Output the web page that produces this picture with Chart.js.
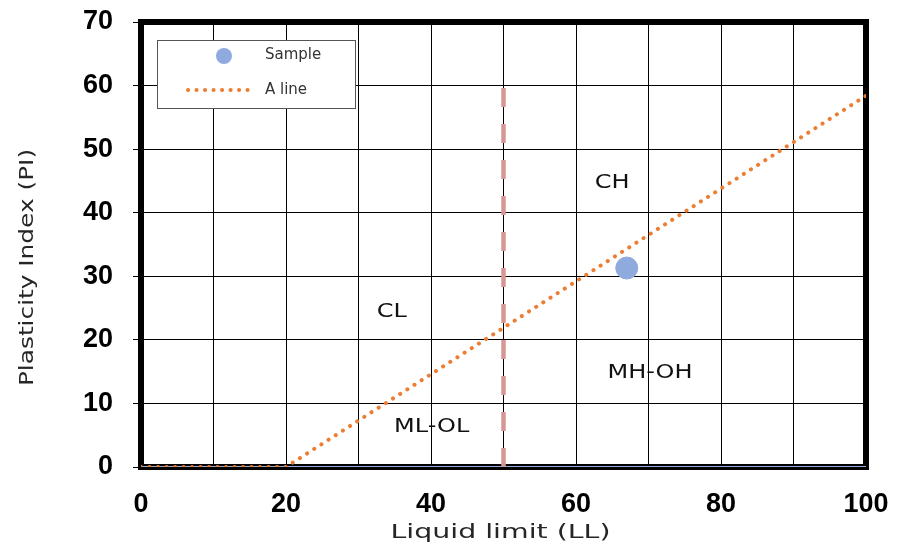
<!DOCTYPE html>
<html>
<head>
<meta charset="utf-8">
<script src="https://cdn.jsdelivr.net/npm/chart.js@4/dist/chart.umd.min.js"></script>
<style>
  html, body { margin: 0; padding: 0; background: #fff; }
  #wrap { width: 897px; height: 548px; }
</style>
</head>
<body>
<div id="wrap"><canvas id="chart"></canvas></div>
<script>
// values
const sampleLL = [67];
const samplePI = [31.3];
const aLineLL = [0, 20, 100];
const aLinePI = [0, 0, 58.4];
const dividerLL = [50, 50];
const dividerPI = [0, 60];
const baseLL = [0, 100];
const basePI = [0, 0];
const zoneNames = ["CH", "CL", "MH-OH", "ML-OL"];
const zoneLL = [65, 34.6, 70.2, 40.1];
const zonePI = [44.7, 24.4, 14.8, 6.3];
const xTitle = "Liquid limit (LL)";
const yTitle = "Plasticity Index (PI)";

const toPoints = (xs, ys) => xs.map((x, i) => ({ x, y: ys[i] }));

const BLUE = "#8faadc";
const ORANGE = "#ed7d31";
const PINK = "#d99694";
const textFont = '"DejaVu Sans", sans-serif';
const tickFont = { family: '"Liberation Sans", Arial', size: 27, weight: "bold" };

// the source text is a little wider than DejaVu, so stretch it sideways
const stretchedText = (ctx, text, x, y, sx, angle) => {
  ctx.save();
  ctx.translate(x, y);
  if (angle) ctx.rotate(angle);
  ctx.scale(sx, 1);
  ctx.fillText(text, 0, 0);
  ctx.restore();
};

const frame = {
  id: "frame",
  beforeDatasetsDraw(chart) {
    const { ctx, chartArea: a } = chart;
    ctx.save();
    ctx.strokeStyle = "#000";
    ctx.lineWidth = 6;
    ctx.strokeRect(a.left, a.top, a.right - a.left, a.bottom - a.top);
    ctx.restore();
  }
};

const texts = {
  id: "texts",
  afterDatasetsDraw(chart) {
    const { ctx, chartArea: a, scales: { x, y } } = chart;
    ctx.save();
    ctx.textAlign = "center";
    ctx.textBaseline = "middle";
    ctx.fillStyle = "#111";
    ctx.font = "20px " + textFont;
    zoneNames.forEach((name, i) => {
      stretchedText(ctx, name, x.getPixelForValue(zoneLL[i]), y.getPixelForValue(zonePI[i]), 1.2);
    });

    ctx.fillStyle = "#262626";
    ctx.font = "20px " + textFont;
    stretchedText(ctx, xTitle, (a.left + a.right) / 2 - 3, 533, 1.42);
    stretchedText(ctx, yTitle, 28, (a.top + a.bottom) / 2 + 23, 1.24, -Math.PI / 2);
    ctx.restore();
  }
};

const insideLegend = {
  id: "insideLegend",
  afterDraw(chart) {
    const { ctx, chartArea: a } = chart;
    const left = a.left + 16, top = a.top + 18;
    ctx.save();
    ctx.fillStyle = "#fff";
    ctx.fillRect(left, top, 198, 68);
    ctx.strokeStyle = "#555";
    ctx.lineWidth = 1;
    ctx.strokeRect(left + 0.5, top + 0.5, 198, 68);

    const sample = chart.data.datasets[0];
    ctx.fillStyle = sample.backgroundColor;
    ctx.beginPath();
    ctx.arc(left + 67, top + 16, 8, 0, Math.PI * 2);
    ctx.fill();

    const aLine = chart.data.datasets[1];
    ctx.strokeStyle = aLine.borderColor;
    ctx.lineWidth = 4;
    ctx.lineCap = "round";
    ctx.setLineDash([0.1, 8.4]);
    ctx.beginPath();
    ctx.moveTo(left + 31, top + 50);
    ctx.lineTo(left + 96, top + 50);
    ctx.stroke();
    ctx.setLineDash([]);

    ctx.fillStyle = "#333";
    ctx.font = "15px " + textFont;
    ctx.textBaseline = "middle";
    ctx.fillText(sample.label, left + 108, top + 15);
    ctx.fillText(aLine.label, left + 108, top + 50);
    ctx.restore();
  }
};

new Chart("chart", {
  type: "scatter",
  data: {
    datasets: [
      {
        label: "Sample",
        data: toPoints(sampleLL, samplePI),
        backgroundColor: BLUE,
        borderColor: BLUE,
        pointRadius: 11,
        order: 0
      },
      {
        label: "A line",
        data: toPoints(aLineLL, aLinePI),
        showLine: true,
        borderColor: ORANGE,
        borderWidth: 4,
        borderCapStyle: "round",
        borderDash: [0.1, 8.4],
        pointRadius: 0,
        order: 1
      },
      {
        data: toPoints(dividerLL, dividerPI),
        showLine: true,
        borderColor: PINK,
        borderWidth: 4.5,
        borderDash: [19, 17],
        pointRadius: 0,
        order: 2
      },
      {
        data: toPoints(baseLL, basePI),
        showLine: true,
        borderColor: BLUE,
        borderWidth: 2,
        pointRadius: 0,
        order: 3
      }
    ]
  },
  options: {
    responsive: true,
    maintainAspectRatio: false,
    animation: false,
    layout: { padding: { top: 22, right: 31, left: 0, bottom: 0 } },
    plugins: { legend: { display: false }, tooltip: { enabled: false } },
    scales: {
      x: {
        min: 0,
        max: 100,
        afterFit: s => { s.height = 81; s.paddingLeft = 0; s.paddingRight = 0; },
        ticks: {
          stepSize: 10,
          maxRotation: 0,
          autoSkip: false,
          padding: 21,
          color: "#000",
          font: tickFont,
          callback: v => (v % 20 === 0 ? v : "")
        },
        grid: { color: "#000", lineWidth: 1, drawTicks: false },
        border: { display: false }
      },
      y: {
        min: 0,
        max: 70,
        afterFit: s => { s.width = 141; s.paddingTop = 0; s.paddingBottom = 0; },
        ticks: {
          stepSize: 10,
          padding: 20,
          color: "#000",
          font: tickFont
        },
        grid: { color: "#000", lineWidth: 1, tickLength: 8 },
        border: { display: false }
      }
    }
  },
  plugins: [frame, texts, insideLegend]
});
</script>
</body>
</html>
